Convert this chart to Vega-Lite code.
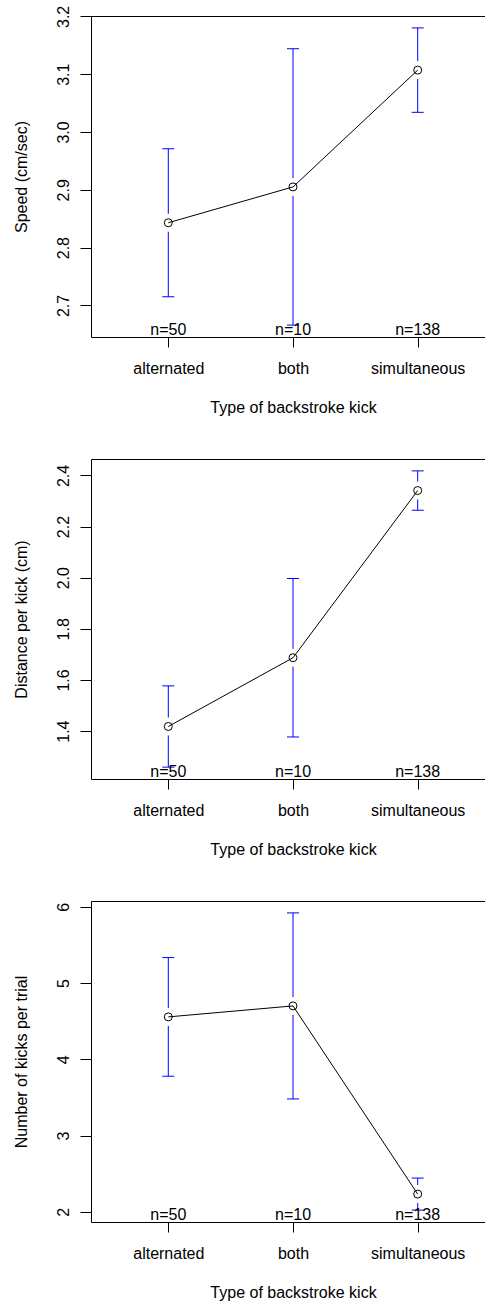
{
  "$schema": "https://vega.github.io/schema/vega-lite/v6.json",
  "padding": {"left": 12, "top": 4, "right": 0, "bottom": 0},
  "spacing": 42,
  "config": {
    "font": "Liberation Sans",
    "view": {"stroke": "black", "strokeWidth": 1},
    "axis": {
      "grid": false, "domain": false,
      "tickColor": "black", "labelColor": "black", "titleColor": "black",
      "labelFontSize": 16, "titleFontSize": 16, "titleFontWeight": "normal",
      "labelFont": "Liberation Sans", "titleFont": "Liberation Sans"
    },
    "axisX": {"tickSize": 10, "labelPadding": 13, "labelAngle": 0, "titlePadding": 23},
    "axisY": {"tickSize": 11, "labelAngle": -90, "labelAlign": "center", "labelBaseline": "alphabetic", "labelPadding": 12, "titlePadding": 26}
  },
  "data": {
    "values": [
      {"measure": "speed", "kick": "alternated", "mean": 2.843, "lo": 2.715, "hi": 2.971, "n": 50},
      {"measure": "speed", "kick": "both", "mean": 2.905, "lo": 2.666, "hi": 3.144, "n": 10},
      {"measure": "speed", "kick": "simultaneous", "mean": 3.107, "lo": 3.034, "hi": 3.180, "n": 138},
      {"measure": "distance", "kick": "alternated", "mean": 1.418, "lo": 1.259, "hi": 1.577, "n": 50},
      {"measure": "distance", "kick": "both", "mean": 1.687, "lo": 1.377, "hi": 1.997, "n": 10},
      {"measure": "distance", "kick": "simultaneous", "mean": 2.341, "lo": 2.264, "hi": 2.418, "n": 138},
      {"measure": "kicks", "kick": "alternated", "mean": 4.556, "lo": 3.778, "hi": 5.334, "n": 50},
      {"measure": "kicks", "kick": "both", "mean": 4.700, "lo": 3.480, "hi": 5.920, "n": 10},
      {"measure": "kicks", "kick": "simultaneous", "mean": 2.232, "lo": 2.022, "hi": 2.442, "n": 138}
    ]
  },
  "transform": [{"calculate": "'n=' + datum.n", "as": "nlabel"}],
  "vconcat": [
    {
      "width": 404, "height": 321,
      "transform": [{"filter": "datum.measure == 'speed'"}],
      "encoding": {
        "x": {"field": "kick", "type": "ordinal", "sort": ["alternated", "both", "simultaneous"],
              "scale": {"type": "point", "padding": 0.62},
              "axis": {"title": "Type of backstroke kick"}}
      },
      "layer": [
        {"mark": {"type": "rule", "stroke": "#0000ff", "strokeWidth": 1},
         "encoding": {
           "y": {"field": "lo", "type": "quantitative",
                 "scale": {"domain": [2.6454, 3.2006], "nice": false, "zero": false},
                 "axis": {"title": "Speed (cm/sec)", "values": [2.7, 2.8, 2.9, 3.0, 3.1, 3.2], "format": ".1f"}},
           "y2": {"field": "hi"}}},
        {"mark": {"type": "tick", "color": "#0000ff", "size": 12, "thickness": 1, "opacity": 1},
         "encoding": {"y": {"field": "lo", "type": "quantitative"}}},
        {"mark": {"type": "tick", "color": "#0000ff", "size": 12, "thickness": 1, "opacity": 1},
         "encoding": {"y": {"field": "hi", "type": "quantitative"}}},
        {"mark": {"type": "point", "shape": "circle", "filled": true, "fill": "white", "strokeWidth": 0, "size": 324, "opacity": 1},
         "encoding": {"y": {"field": "mean", "type": "quantitative"}}},
        {"mark": {"type": "line", "stroke": "black", "strokeWidth": 1},
         "encoding": {"y": {"field": "mean", "type": "quantitative"}}},
        {"mark": {"type": "point", "shape": "circle", "filled": false, "stroke": "black", "strokeWidth": 1, "size": 64, "opacity": 1},
         "encoding": {"y": {"field": "mean", "type": "quantitative"}}},
        {"mark": {"type": "text", "fontSize": 16, "baseline": "alphabetic", "dy": -2, "color": "black", "y": "height"},
         "encoding": {"text": {"field": "nlabel"}}}
      ]
    },
    {
      "width": 404, "height": 320,
      "transform": [{"filter": "datum.measure == 'distance'"}],
      "encoding": {
        "x": {"field": "kick", "type": "ordinal", "sort": ["alternated", "both", "simultaneous"],
              "scale": {"type": "point", "padding": 0.62},
              "axis": {"title": "Type of backstroke kick"}}
      },
      "layer": [
        {"mark": {"type": "rule", "stroke": "#0000ff", "strokeWidth": 1},
         "encoding": {
           "y": {"field": "lo", "type": "quantitative",
                 "scale": {"domain": [1.2126, 2.4644], "nice": false, "zero": false},
                 "axis": {"title": "Distance per kick (cm)", "values": [1.4, 1.6, 1.8, 2.0, 2.2, 2.4], "format": ".1f"}},
           "y2": {"field": "hi"}}},
        {"mark": {"type": "tick", "color": "#0000ff", "size": 12, "thickness": 1, "opacity": 1},
         "encoding": {"y": {"field": "lo", "type": "quantitative"}}},
        {"mark": {"type": "tick", "color": "#0000ff", "size": 12, "thickness": 1, "opacity": 1},
         "encoding": {"y": {"field": "hi", "type": "quantitative"}}},
        {"mark": {"type": "point", "shape": "circle", "filled": true, "fill": "white", "strokeWidth": 0, "size": 324, "opacity": 1},
         "encoding": {"y": {"field": "mean", "type": "quantitative"}}},
        {"mark": {"type": "line", "stroke": "black", "strokeWidth": 1},
         "encoding": {"y": {"field": "mean", "type": "quantitative"}}},
        {"mark": {"type": "point", "shape": "circle", "filled": false, "stroke": "black", "strokeWidth": 1, "size": 64, "opacity": 1},
         "encoding": {"y": {"field": "mean", "type": "quantitative"}}},
        {"mark": {"type": "text", "fontSize": 16, "baseline": "alphabetic", "dy": -2, "color": "black", "y": "height"},
         "encoding": {"text": {"field": "nlabel"}}}
      ]
    },
    {
      "width": 404, "height": 321,
      "transform": [{"filter": "datum.measure == 'kicks'"}],
      "encoding": {
        "x": {"field": "kick", "type": "ordinal", "sort": ["alternated", "both", "simultaneous"],
              "scale": {"type": "point", "padding": 0.62},
              "axis": {"title": "Type of backstroke kick"}}
      },
      "layer": [
        {"mark": {"type": "rule", "stroke": "#0000ff", "strokeWidth": 1},
         "encoding": {
           "y": {"field": "lo", "type": "quantitative",
                 "scale": {"domain": [1.866, 6.076], "nice": false, "zero": false},
                 "axis": {"title": "Number of kicks per trial", "values": [2, 3, 4, 5, 6], "format": "d"}},
           "y2": {"field": "hi"}}},
        {"mark": {"type": "tick", "color": "#0000ff", "size": 12, "thickness": 1, "opacity": 1},
         "encoding": {"y": {"field": "lo", "type": "quantitative"}}},
        {"mark": {"type": "tick", "color": "#0000ff", "size": 12, "thickness": 1, "opacity": 1},
         "encoding": {"y": {"field": "hi", "type": "quantitative"}}},
        {"mark": {"type": "point", "shape": "circle", "filled": true, "fill": "white", "strokeWidth": 0, "size": 324, "opacity": 1},
         "encoding": {"y": {"field": "mean", "type": "quantitative"}}},
        {"mark": {"type": "line", "stroke": "black", "strokeWidth": 1},
         "encoding": {"y": {"field": "mean", "type": "quantitative"}}},
        {"mark": {"type": "point", "shape": "circle", "filled": false, "stroke": "black", "strokeWidth": 1, "size": 64, "opacity": 1},
         "encoding": {"y": {"field": "mean", "type": "quantitative"}}},
        {"mark": {"type": "text", "fontSize": 16, "baseline": "alphabetic", "dy": -2, "color": "black", "y": "height"},
         "encoding": {"text": {"field": "nlabel"}}}
      ]
    }
  ]
}
